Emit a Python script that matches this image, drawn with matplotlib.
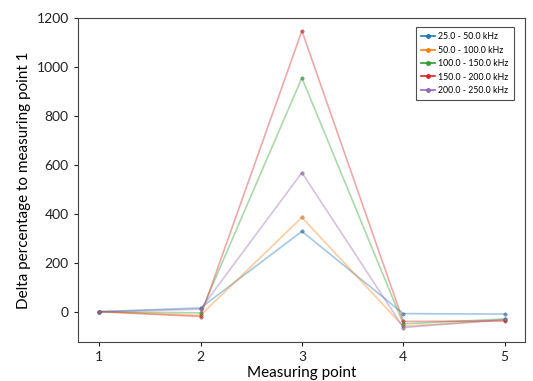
import matplotlib
matplotlib.use("Agg")
import matplotlib.pyplot as plt

plt.rcParams['font.family'] = ['Lato', 'DejaVu Sans']

points = [1, 2, 3, 4, 5]
labels = ["25.0 - 50.0 kHz", "50.0 - 100.0 kHz", "100.0 - 150.0 kHz",
          "150.0 - 200.0 kHz", "200.0 - 250.0 kHz"]
band_25_50 = [0, 15, 328, -8, -10]
band_50_100 = [0, -15, 385, -60, -35]
band_100_150 = [0, -5, 955, -50, -30]
band_150_200 = [0, -20, 1147, -40, -38]
band_200_250 = [0, 10, 568, -65, -32]
series = [band_25_50, band_50_100, band_100_150, band_150_200, band_200_250]
colors = ['#1f77b4', '#ff7f0e', '#2ca02c', '#d62728', '#9467bd']

fig = plt.figure(figsize=(5.33, 3.81), dpi=100)
ax = fig.add_axes([0.146, 0.103, 0.839, 0.85])

for vals, lab, c in zip(series, labels, colors):
    ax.plot(points, vals, color=c, alpha=0.4, lw=1.2)
    ax.plot(points, vals, color=c, alpha=0.7, lw=0, marker='o', ms=2.5,
            mec='#555555', mew=0.3)
    ax.plot([], [], color=c, marker='o', ms=2.5, lw=1.2, label=lab)

ax.set_xlim(0.79, 5.2)
ax.set_ylim(-123, 1200)
ax.set_xticks(points)
ax.set_yticks([0, 200, 400, 600, 800, 1000, 1200])
ax.tick_params(labelsize=10, colors='#222222', length=3)
for s in ax.spines.values():
    s.set_color('#444444')
ax.set_xlabel("Measuring point", fontsize=11, labelpad=2)
ax.set_ylabel("Delta percentage to measuring point 1", fontsize=11)
leg = ax.legend(loc='upper right', fontsize=6.3, fancybox=False, edgecolor='#222222',
                handlelength=1.6, handletextpad=0.4, borderpad=0.6, labelspacing=0.5,
                bbox_to_anchor=(0.985, 0.985))
leg.get_frame().set_linewidth(0.8)

fig.savefig("out.png", dpi=100)
